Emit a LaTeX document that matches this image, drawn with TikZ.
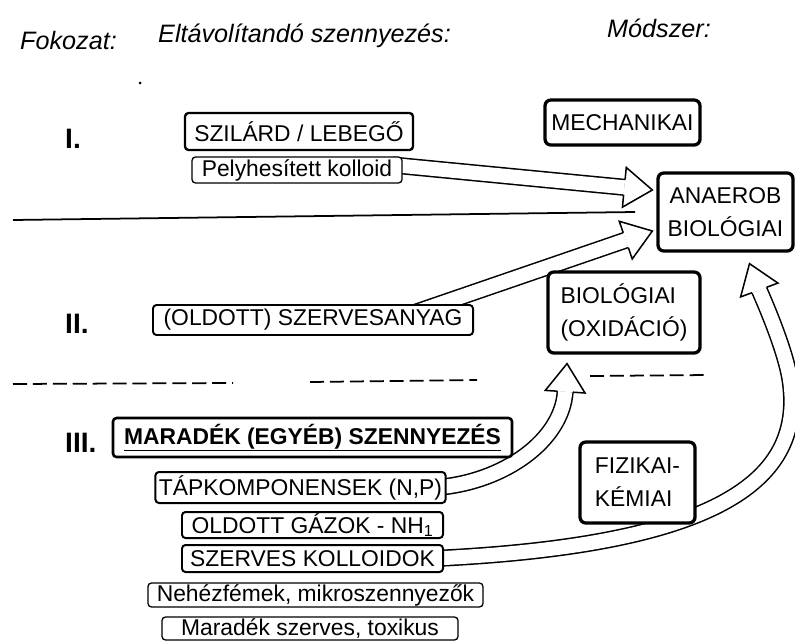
\documentclass[tikz,border=0pt]{standalone}
\usepackage{fontspec}
\setmainfont{Liberation Sans}
\usepackage{tikz}
\usetikzlibrary{calc}
\usetikzlibrary{backgrounds}
\usetikzlibrary{decorations.markings}
\newcommand{\boxfont}{\fontsize{19.5}{28}\selectfont}
\newcommand{\headfont}{\fontsize{21.5}{24}\selectfont\itshape}
\newcommand{\stagefont}{\fontsize{24}{26}\selectfont\bfseries}
\newcommand{\headlen}{24pt}
\newcommand{\headhalf}{17pt}
\tikzset{
    common/.style={draw, rectangle, rounded corners=3pt, fill=white, font=\boxfont, inner xsep=3pt, inner ysep=1pt},
    item/.style={common, line width=1.7pt},
    thinitem/.style={common, line width=1.1pt},
    method/.style={common, line width=2.8pt, rounded corners=5pt, align=center},
    head/.style={anchor=west, inner sep=0pt, font=\headfont},
    stage/.style={anchor=west, inner sep=0pt, font=\stagefont},
    divider/.style={line width=1.5pt},
    hollow/.style={
        preaction={draw, line width=1.3pt, double=white, double distance=12pt, shorten >=\headlen},
        postaction={decorate, decoration={markings, mark=at position 1 with {
            \fill[white] (-\headlen,-\headhalf) -- (0pt,0pt) -- (-\headlen,\headhalf) -- cycle;
            \draw[line width=1.3pt, line join=miter]
                (-\headlen,6.65pt) -- (-\headlen,\headhalf) -- (0pt,0pt) -- (-\headlen,-\headhalf) -- (-\headlen,-6.65pt);
        }}}
    }
}

\begin{document}
\begin{tikzpicture}[x=0.3mm, y=-0.3mm]
        \useasboundingbox (0,0) rectangle (795,644);

        \node[head] (fokozat) at (20,40) {Fokozat:};
        \node[head] (eltav) at (158,36) {Eltávolítandó szennyezés:};
        \node[head] (modszer) at (607,28) {Módszer:};
        \fill (140,83) circle[radius=1.5];

        \node[stage] (stI) at (65,139) {I.};
        \node[stage] (stII) at (65,324) {II.};
        \node[stage] (stIII) at (65,443) {III.};

        % eltavolitando szennyezes
        \node[item, line width=2pt, minimum width=68.4mm, minimum height=11.1mm] (szilard) at (299,131.5) {SZILÁRD / LEBEGŐ};
        \node[thinitem, minimum width=63mm, minimum height=7.8mm] (pelyh) at (297,170) {Pelyhesített kolloid};
        \node[item, minimum width=96mm, minimum height=9mm] (sza) at (313,320) {(OLDOTT) SZERVESANYAG};
        \node[item, line width=2.2pt, minimum width=119.7mm, minimum height=11.7mm] (maradek) at (312.5,437.5) {\textbf{\underline{MARADÉK (EGYÉB) SZENNYEZÉS}}};
        \node[item, minimum width=85.5mm, minimum height=9.3mm] (tap) at (300.5,487.5) {TÁPKOMPONENSEK (N,P)};
        \node[item, minimum width=78.3mm, minimum height=7.8mm] (gaz) at (312.5,525) {OLDOTT GÁZOK - NH\textsubscript{1}};
        \node[item, minimum width=78.3mm, minimum height=8.1mm] (kolloid) at (312.5,558.5) {SZERVES KOLLOIDOK};
        \node[thinitem, minimum width=100.5mm, minimum height=7.2mm] (nehez) at (315.5,595) {Nehézfémek, mikroszennyezők};
        \node[thinitem, minimum width=88.8mm, minimum height=6.9mm] (toxikus) at (310,628.5) {Maradék szerves, toxikus};

        % modszer
        \node[method, minimum width=46.5mm, minimum height=13.5mm] (mech) at (622.5,122.5) {MECHANIKAI};
        \node[method, minimum width=40.5mm, minimum height=23.4mm] (anaerob) at (725.5,212) {ANAEROB\\BIOLÓGIAI};
        \node[method, align=left, minimum width=45.6mm, minimum height=24.3mm] (bio) at (624,312.5) {BIOLÓGIAI\\(OXIDÁCIÓ)};
        \node[method, align=left, minimum width=34.5mm, minimum height=24.3mm] (fizkem) at (637.5,482.5) {FIZIKAI-\\KÉMIAI};

        \draw[divider] (13,220) -- (635,212);
        \draw[divider, dash pattern=on 12pt off 5pt] (13,384) -- (233,383) (310,382) -- (477,380) (590,376) -- (708,375);

        \begin{scope}[on background layer]
            \path[hollow] ($(pelyh.east)+(-10,-5)$) -- ($(anaerob.west)+(-4,-22)$);
            \path[hollow] ($(sza.north east)+(-75,14)$) -- ($(anaerob.west)+(-4,19)$);
            \path[hollow] ($(tap.east)+(-10,0)$) .. controls (505,482) and (562,440) .. ($(bio.south)+(-57,9)$);
            \path[hollow] ($(kolloid.east)+(-10,0)$) .. controls (720,545) and (805,480) .. (790,380)
                .. controls (785,347) and (760,292) .. ($(anaerob.south)+(24,11)$);
        \end{scope}
\end{tikzpicture}
\end{document}
